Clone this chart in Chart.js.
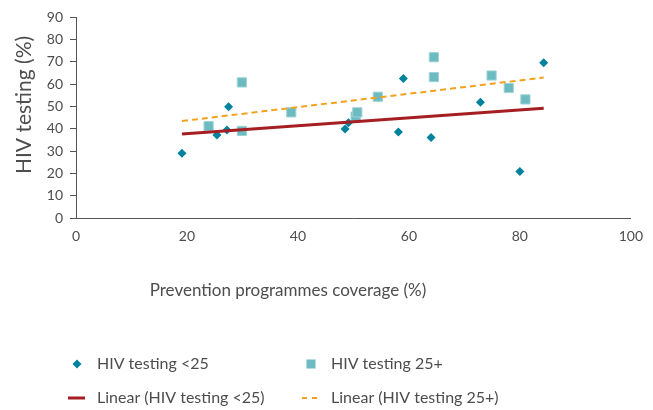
<!DOCTYPE html>
<html>
<head>
<meta charset="utf-8">
<script src="https://cdn.jsdelivr.net/npm/chart.js@4.4.1/dist/chart.umd.min.js"></script>
<style>
  html, body { margin: 0; padding: 0; background: #fff; }
  #wrap { width: 653px; height: 410px; position: relative; }
</style>
</head>
<body>
<div id="wrap"><canvas id="hivChart" width="653" height="410"></canvas></div>
<script>
// coverage (%) and testing (%)
const under25Coverage = [19.1, 25.4, 27.2, 27.5, 48.5, 49.1, 58.1, 59.0, 64.0, 72.9, 80.0, 84.3];
const under25Testing  = [29.0, 37.2, 39.4, 49.8, 39.9, 42.7, 38.5, 62.5, 36.0, 51.8, 20.8, 69.5];

const over25Coverage = [23.9, 29.9, 29.9, 38.8, 50.4, 50.7, 54.4, 64.5, 64.5, 74.9, 78.0, 81.0];
const over25Testing  = [41.1, 60.7, 39.0, 47.3, 45.4, 47.3, 54.3, 72.0, 63.1, 63.8, 58.2, 53.1];

// trend line end points
const trendUnder25X = [19.1, 84.3];
const trendUnder25Y = [37.6, 49.1];
const trendOver25X  = [19.1, 84.3];
const trendOver25Y  = [43.4, 62.9];

const legendLabels = ["HIV testing <25", "HIV testing 25+", "Linear (HIV testing <25)", "Linear (HIV testing 25+)"];
const xTitle = "Prevention programmes coverage (%)";
const yTitle = "HIV testing (%)";

const FONT = "Lato";
const TEXT = "#4d4d4d";
const DIAMOND = "#00819e";
const SQUARE = "#6bbbc0";
const RED = "#a51f22";
const ORANGE = "#f4a11e";

const pairs = (xs, ys) => xs.map((x, i) => ({ x: x, y: ys[i] }));

// axis titles (placed like the original, off-centre) and a 2x2 legend
const extraText = {
    id: 'extraText',
    afterDraw(chart) {
        const ctx = chart.ctx;
        ctx.save();
        ctx.fillStyle = TEXT;
        ctx.textBaseline = "middle";

        ctx.textAlign = "center";
        ctx.font = "17px " + FONT;
        ctx.fillText(xTitle, 288, 291);

        ctx.save();
        ctx.translate(24, 105);
        ctx.rotate(-Math.PI / 2);
        ctx.font = "21px " + FONT;
        ctx.fillText(yTitle, 0, 0);
        ctx.restore();

        const cols = [77, 311];
        const rows = [364, 398];
        ctx.textAlign = "left";
        ctx.font = "16px " + FONT;
        legendLabels.forEach((label, i) => {
            ctx.fillText(label, cols[i % 2] + 20, rows[Math.floor(i / 2)]);
        });
        // diamond
        ctx.fillStyle = DIAMOND;
        ctx.beginPath();
        ctx.moveTo(77, 364 - 4.5); ctx.lineTo(81.5, 364); ctx.lineTo(77, 368.5); ctx.lineTo(72.5, 364);
        ctx.closePath(); ctx.fill();
        // square
        ctx.fillStyle = SQUARE;
        ctx.fillRect(311 - 4.5, 364 - 4.5, 9, 9);
        // red line
        ctx.strokeStyle = RED; ctx.lineWidth = 3;
        ctx.beginPath(); ctx.moveTo(68, 398); ctx.lineTo(85, 398); ctx.stroke();
        // orange dashes
        ctx.strokeStyle = ORANGE; ctx.lineWidth = 2; ctx.setLineDash([5, 5]);
        ctx.beginPath(); ctx.moveTo(302, 398); ctx.lineTo(319, 398); ctx.stroke();
        ctx.restore();
    }
};

const chart = new Chart(document.getElementById('hivChart'), {
    type: 'scatter',
    data: {
        datasets: [
            {
                label: legendLabels[2],
                data: pairs(trendUnder25X, trendUnder25Y),
                showLine: true,
                borderColor: RED,
                borderWidth: 3,
                pointRadius: 0
            },
            {
                label: legendLabels[3],
                data: pairs(trendOver25X, trendOver25Y),
                showLine: true,
                borderColor: ORANGE,
                borderWidth: 2,
                borderDash: [6, 4],
                pointRadius: 0
            },
            {
                label: legendLabels[0],
                data: pairs(under25Coverage, under25Testing),
                pointStyle: 'rectRot',
                pointRadius: 4.5,
                backgroundColor: DIAMOND,
                borderColor: DIAMOND,
                borderWidth: 0
            },
            {
                label: legendLabels[1],
                data: pairs(over25Coverage, over25Testing),
                pointStyle: 'rect',
                pointRadius: 6.5,
                backgroundColor: SQUARE,
                borderColor: '#9fd3d6',
                borderWidth: 1
            }
        ]
    },
    options: {
        responsive: false,
        animation: false,
        layout: { padding: { top: 17, right: 19, bottom: 110, left: 0 } },
        plugins: {
            legend: { display: false },
            tooltip: { enabled: false }
        },
        scales: {
            x: {
                min: 0, max: 100,
                ticks: { stepSize: 20, color: TEXT, font: { family: FONT, size: 14 }, padding: 10 },
                grid: { display: false, drawTicks: false },
                border: { color: '#555', width: 1 },
                afterFit(scale) { scale.height = 82; }
            },
            y: {
                min: 0, max: 90,
                ticks: { stepSize: 10, color: TEXT, font: { family: FONT, size: 14 }, padding: 7 },
                grid: { drawOnChartArea: false, drawTicks: true, tickLength: 6, color: '#555' },
                border: { color: '#555', width: 1 },
                afterFit(scale) { scale.width = 76; }
            }
        }
    },
    plugins: [extraText]
});
</script>
</body>
</html>
